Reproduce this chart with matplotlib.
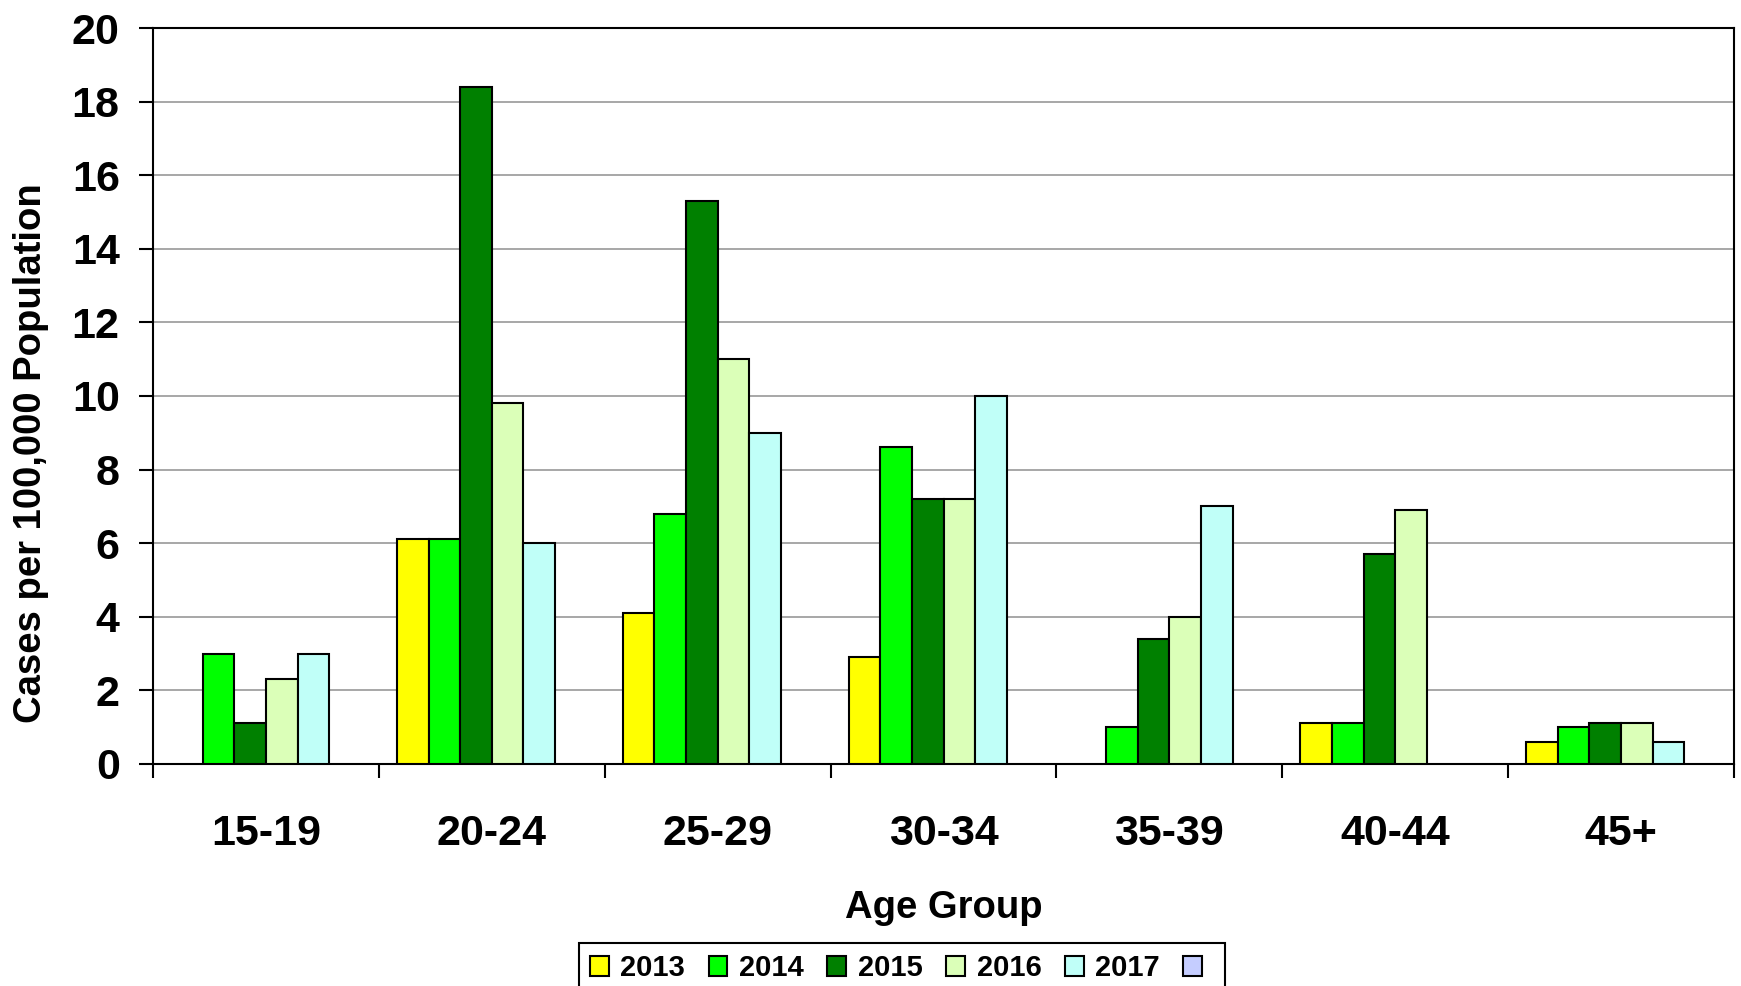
import matplotlib
matplotlib.use('Agg')
import matplotlib.pyplot as plt
import numpy as np

plt.rcParams['font.family'] = ['Liberation Sans', 'DejaVu Sans']
plt.rcParams['font.weight'] = 'bold'

# Age groups and rates (cases per 100,000) per year
age_groups = ['15-19', '20-24', '25-29', '30-34', '35-39', '40-44', '45+']
years = ['2013', '2014', '2015', '2016', '2017', '']
rates_2013 = [0, 6.1, 4.1, 2.9, 0, 1.1, 0.6]
rates_2014 = [3.0, 6.1, 6.8, 8.6, 1.0, 1.1, 1.0]
rates_2015 = [1.1, 18.4, 15.3, 7.2, 3.4, 5.7, 1.1]
rates_2016 = [2.3, 9.8, 11.0, 7.2, 4.0, 6.9, 1.1]
rates_2017 = [3.0, 6.0, 9.0, 10.0, 7.0, 0, 0.6]
rates_blank = [0, 0, 0, 0, 0, 0, 0]
series = [rates_2013, rates_2014, rates_2015, rates_2016, rates_2017, rates_blank]
colors = ['#FFFF00', '#00FF00', '#008000', '#DBFFB8', '#C0FFF8', '#C5CDFF']

fig = plt.figure(figsize=(17.41, 9.86), dpi=100)
ax = fig.add_axes([0.0879, 0.2252, 0.9081, 0.7464])

x = np.arange(len(age_groups))
w = 0.14
handles = []
for i, (vals, c) in enumerate(zip(series, colors)):
    offs = (i - 2.5) * w
    v = np.array(vals, dtype=float)
    # zero values are simply not drawn
    ax.bar(x + offs, np.where(v > 0, v, np.nan), width=w, color=c,
           edgecolor='black', linewidth=1.5, zorder=3)
    handles.append(plt.Rectangle((0, 0), 1, 1, facecolor=c, edgecolor='black', linewidth=1.5))

ax.set_xlim(-0.5, len(age_groups) - 0.5)
ax.set_ylim(0, 20)
ax.set_yticks(range(0, 21, 2))
ax.yaxis.grid(True, color='#a0a0a0', linewidth=1.3, zorder=0)
ax.set_axisbelow(True)

# category boundary ticks on x axis, labels at centres
ax.set_xticks(np.arange(-0.5, len(age_groups) - 0.4, 1.0))
ax.set_xticklabels([])
ax.set_xticks(x, minor=True)
ax.set_xticklabels(age_groups, minor=True, fontsize=31, fontweight='bold')
ax.tick_params(axis='x', which='minor', length=0, pad=36)
ax.tick_params(axis='x', which='major', length=10, width=1.5, direction='out')
ax.tick_params(axis='y', length=10, width=1.5, direction='out', pad=14, labelsize=31)

for s in ax.spines.values():
    s.set_linewidth(1.5)
    s.set_color('black')

ax.set_xlabel('Age Group', fontsize=27.5, fontweight='bold', labelpad=26)
ax.set_ylabel('Cases per 100,000 Population', fontsize=27.5, fontweight='bold')
ax.yaxis.set_label_coords(-0.066, 0.4226)

leg = fig.legend(handles, years, loc='upper center', bbox_to_anchor=(0.518, 1 - 943 / 986),
                 ncol=6, frameon=True, fancybox=False, framealpha=1,
                 edgecolor='black', handlelength=0.65, handleheight=0.65,
                 handletextpad=0.4, columnspacing=0.8, borderaxespad=0, borderpad=0.38,
                 prop={'weight': 'bold', 'size': 21})
leg.get_frame().set_linewidth(1.5)

fig.savefig('out.png', dpi=100)
